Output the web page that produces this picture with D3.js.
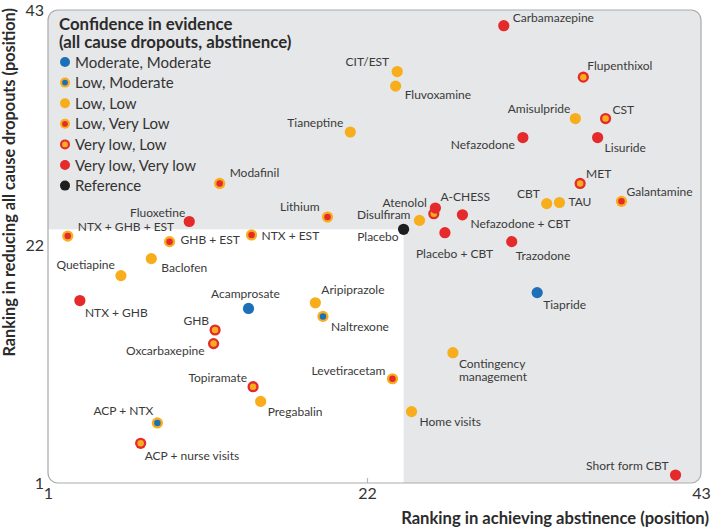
<!DOCTYPE html>
<html><head><meta charset="utf-8">
<script src="https://cdn.jsdelivr.net/npm/d3@7"></script>
<style>
body{margin:0;background:#fff}
svg{display:block;font-family:Lato,"Open Sans",sans-serif}
</style>
</head><body>
<svg id="chart" width="711" height="532"></svg>
<script>
// ---------- DATA ----------
const names = ["Carbamazepine","CIT/EST","Fluvoxamine","Flupenthixol","Tianeptine","Amisulpride","CST","Nefazodone","Lisuride","Modafinil","MET","Galantamine","CBT","TAU","Lithium","Fluoxetine","Atenolol","A-CHESS","Disulfiram","Nefazodone + CBT","Placebo","Placebo + CBT","Trazodone","NTX + GHB + EST","GHB + EST","NTX + EST","Baclofen","Quetiapine","Tiapride","NTX + GHB","Acamprosate","Aripiprazole","Naltrexone","GHB","Oxcarbaxepine","Contingency management","Levetiracetam","Topiramate","Pregabalin","Home visits","ACP + NTX","ACP + nurse visits","Short form CBT"];
const abstinence = [30.6,23.9,23.8,35.6,20.9,35.1,37.0,31.8,36.5,12.3,35.4,38.0,33.3,34.1,19.4,10.3,26.2,26.3,25.3,28.0,24.3,26.9,31.1,2.3,9.0,14.4,7.8,5.8,32.7,3.1,14.2,18.6,19.1,12.0,11.9,27.4,23.6,14.5,15.0,24.8,8.2,7.1,41.4];
const dropouts   = [41.6,37.5,36.2,37.0,32.1,33.3,33.3,31.6,31.6,27.5,27.5,25.9,25.7,25.8,24.5,24.1,24.8,25.3,24.2,24.7,23.4,23.1,22.3,22.8,22.3,22.9,20.8,19.3,17.8,17.1,16.4,16.9,15.7,14.5,13.3,12.5,10.2,9.5,8.2,7.3,6.3,4.5,1.7];
const evidence   = ["VLVL","LL","LL","VLL","LL","LL","VLL","VLVL","VLVL","LVL","VLL","LVL","LL","LL","LVL","VLVL","VLL","VLVL","LL","VLVL","REF","VLVL","VLVL","LVL","LVL","LVL","LL","LL","MM","VLVL","MM","LL","LM","VLL","VLL","LL","LVL","VLL","LL","LL","LM","VLL","VLVL"];
const legendKeys   = ["MM","LM","LL","LVL","VLL","VLVL","REF"];
const legendLabels = ["Moderate, Moderate","Low, Moderate","Low, Low","Low, Very Low","Very low, Low","Very low, Very low","Reference"];
const tickValues = [1,22,43];
const referenceName = "Placebo";

// ---------- LAYOUT / STYLE ----------
const BLUE="#1d6fb8", YEL="#f8ad1d", RED="#e42a2b", BLK="#1e1e1e";
const styles = {
  MM:{outer:BLUE,inner:BLUE}, LM:{outer:YEL,inner:BLUE}, LL:{outer:YEL,inner:YEL},
  LVL:{outer:YEL,inner:RED}, VLL:{outer:RED,inner:YEL}, VLVL:{outer:RED,inner:RED}, REF:{outer:BLK,inner:BLK}
};
// label offsets: [dx, dy(baseline), anchor]
const labelPos = {
  "Carbamazepine":[9,-4,"start"],"CIT/EST":[-8,-6,"end"],"Fluvoxamine":[9,13,"start"],
  "Flupenthixol":[4,-7,"start"],"Tianeptine":[-7,-5,"end"],"Amisulpride":[-5,-6,"end"],
  "CST":[7,-5,"start"],"Nefazodone":[-8,11,"end"],"Lisuride":[7,14,"start"],
  "Modafinil":[10,-6,"start"],"MET":[6,-5,"start"],"Galantamine":[5,-5,"start"],
  "CBT":[-7,-6,"end"],"TAU":[9,4,"start"],"Lithium":[-8,-6,"end"],"Fluoxetine":[-4,-5,"end"],
  "Atenolol":[-7,-7,"end"],"A-CHESS":[5,-7,"start"],"Disulfiram":[-9,-1,"end"],
  "Nefazodone + CBT":[8,13,"start"],"Placebo":[-5,12,"end"],"Placebo + CBT":[-29,25,"start"],
  "Trazodone":[4,18,"start"],"NTX + GHB + EST":[10,-5,"start"],"GHB + EST":[11,2,"start"],
  "NTX + EST":[10,5,"start"],"Baclofen":[10,13,"start"],"Quetiapine":[-6,-7,"end"],
  "Tiapride":[6,16,"start"],"NTX + GHB":[5,16,"start"],"Acamprosate":[-3,-10,"middle"],
  "Aripiprazole":[6,-9,"start"],"Naltrexone":[8,15,"start"],"GHB":[-6,-5,"end"],
  "Oxcarbaxepine":[-9,11,"end"],"Contingency management":[6,15,"start"],"Levetiracetam":[-7,-4,"end"],
  "Topiramate":[-6,-5,"end"],"Pregabalin":[7,15,"start"],"Home visits":[8,14,"start"],
  "ACP + NTX":[-4,-8,"end"],"ACP + nurse visits":[4,17,"start"],"Short form CBT":[-7,-5,"end"]
};

const svg = d3.select("#chart");
const x = d3.scaleLinear().domain(tickValues).range([48,367,701]);
const y = d3.scaleLinear().domain(tickValues).range([483,245,10]);

const fx0=x(1), fx1=x(43), fy0=y(43), fy1=y(1), R=10;
const iRef = names.indexOf(referenceName);
const px = x(abstinence[iRef]), py = y(dropouts[iRef]);

const defs = svg.append("defs");
defs.append("clipPath").attr("id","frameClip").append("rect")
  .attr("x",fx0).attr("y",fy0).attr("width",fx1-fx0).attr("height",fy1-fy0).attr("rx",R);

svg.append("rect").attr("x",fx0).attr("y",fy0).attr("width",fx1-fx0).attr("height",fy1-fy0)
  .attr("rx",R).attr("fill","#e6e7e8");
svg.append("rect").attr("clip-path","url(#frameClip)")
  .attr("x",fx0).attr("y",py).attr("width",px-fx0).attr("height",fy1-py).attr("fill","#fff");
svg.append("rect").attr("x",fx0).attr("y",fy0).attr("width",fx1-fx0).attr("height",fy1-fy0)
  .attr("rx",R).attr("fill","none").attr("stroke","#a9abae").attr("stroke-width",1.2);

// axes
const xAxis = svg.append("g").attr("transform",`translate(0,${fy1})`)
  .call(d3.axisBottom(x).tickValues(tickValues).tickFormat(d3.format("d")).tickSizeInner(-5).tickSizeOuter(0).tickPadding(6));
xAxis.select(".domain").remove();
xAxis.selectAll(".tick line").attr("stroke","#b5b7b9").attr("stroke-width",1.2)
  .attr("display",d=>d===22?null:"none");
xAxis.selectAll(".tick text").attr("font-size",16).attr("fill","#333").attr("font-family","Lato,sans-serif").attr("y",5);

const yAxis = svg.append("g").attr("transform",`translate(${fx0},0)`)
  .call(d3.axisLeft(y).tickValues(tickValues).tickFormat(d3.format("d")).tickSize(0).tickPadding(4));
yAxis.select(".domain").remove();
yAxis.selectAll(".tick text").attr("font-size",16).attr("fill","#333").attr("font-family","Lato,sans-serif");

// axis titles
svg.append("text").attr("x",709).attr("y",524).attr("text-anchor","end")
  .attr("font-size",16.6).attr("font-weight",700).attr("fill","#2b2b2b")
  .text("Ranking in achieving abstinence (position)");
svg.append("text").attr("transform","translate(15,8) rotate(-90)").attr("text-anchor","end")
  .attr("font-size",16.3).attr("font-weight",700).attr("fill","#2b2b2b")
  .text("Ranking in reducing all cause dropouts (position)");

// legend
const lg = svg.append("g");
lg.append("text").attr("x",59).attr("y",30).attr("font-size",16.8).attr("font-weight",700).attr("fill","#2b2b2b")
  .text("Confidence in evidence");
lg.append("text").attr("x",59).attr("y",48).attr("font-size",16.8).attr("font-weight",700).attr("fill","#2b2b2b")
  .text("(all cause dropouts, abstinence)");
function dot(g, cx, cy, key, r){
  const s = styles[key];
  g.append("circle").attr("cx",cx).attr("cy",cy).attr("r",r).attr("fill",s.outer);
  if (s.inner!==s.outer) g.append("circle").attr("cx",cx).attr("cy",cy).attr("r",r*0.58).attr("fill",s.inner);
}
legendKeys.forEach((k,i)=>{
  const yy = 62 + i*20.6;
  dot(lg, 65, yy, k, 5);
  lg.append("text").attr("x",75).attr("y",yy+5.5).attr("font-size",15).attr("fill","#333").text(legendLabels[i]);
});

// points
const pts = svg.append("g");
names.forEach((n,i)=>{
  const cx = x(abstinence[i]), cy = y(dropouts[i]);
  dot(pts, cx, cy, evidence[i], 5.6);
});
const lbl = svg.append("g").attr("font-size",12).attr("fill","#3a3a3a");
names.forEach((n,i)=>{
  const cx = x(abstinence[i]), cy = y(dropouts[i]);
  const [dx,dy,anc] = labelPos[n];
  const lines = n==="Contingency management" ? ["Contingency","management"] : [n];
  lines.forEach((s,j)=>{
    lbl.append("text").attr("x",cx+dx).attr("y",cy+dy+j*13).attr("text-anchor",anc).text(s);
  });
});
</script>
</body></html>
